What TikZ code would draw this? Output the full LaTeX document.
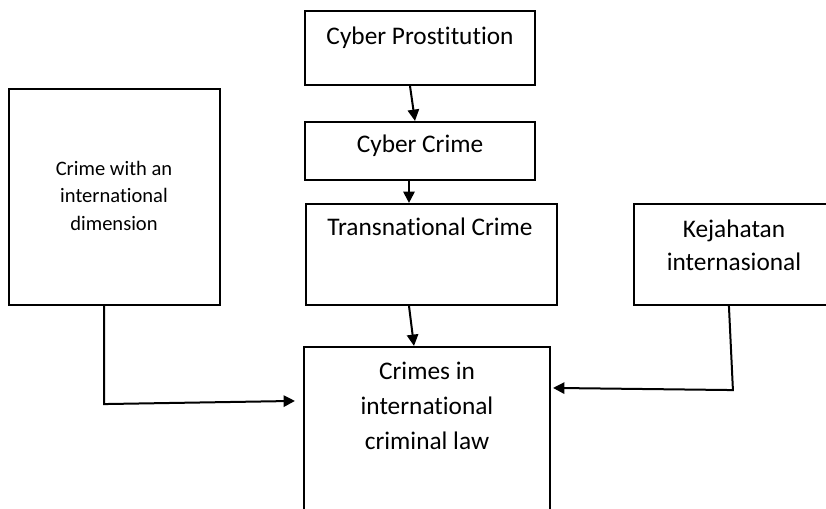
\documentclass[tikz,border=0pt]{standalone}
\usepackage{fontspec}
\setmainfont{Carlito}[Ligatures=NoCommon]
\usetikzlibrary{arrows.meta, calc}

\tikzset{
  box/.style={draw, line width=1.6pt, rectangle, inner sep=0pt},
  txt/.style={inner sep=0pt, align=center, anchor=base},
  arr/.style={line width=1.5pt, -{Triangle[length=8.5pt,width=8.5pt]}}
}

\begin{document}
\begin{tikzpicture}[x=0.75pt,y=0.75pt,yscale=-1,xscale=1]
        \clip (0,0) rectangle (826,508);

        %Shape: Rectangle [cyber prostitution]
        \node[box, minimum width=172.5pt, minimum height=55.5pt] (cp) at (420,48) {};
        %Shape: Rectangle [cyber crime]
        \node[box, minimum width=172.5pt, minimum height=43.5pt] (cc) at (420,151) {};
        %Shape: Rectangle [transnational crime]
        \node[box, minimum width=188.25pt, minimum height=75.75pt] (tc) at (431.5,254.5) {};
        %Shape: Rectangle [international dimension]
        \node[box, minimum width=158.25pt, minimum height=162pt] (cid) at (114.5,197) {};
        %Shape: Rectangle [kejahatan]
        \node[box, minimum width=150pt, minimum height=75.75pt] (ki) at (734,254.5) {};
        %Shape: Rectangle [international criminal law]
        \node[box, minimum width=184.5pt, minimum height=137.25pt] (icl) at (427,438.5) {};

        % Text Node (base = last line)
        \node[txt, font=\fontsize{19}{23}\selectfont] (cpt) at (420,44) {Cyber Prostitution};
        % Text Node
        \node[txt, font=\fontsize{19}{23}\selectfont] (cct) at (420,152) {Cyber Crime};
        % Text Node
        \node[txt, font=\fontsize{19}{23}\selectfont] (tct) at (430,235) {Transnational Crime};
        % Text Node
        \node[txt, font=\fontsize{15.4}{20.8}\selectfont] (cidt) at (114,230.5) {Crime with an\\international\\dimension};
        % Text Node
        \node[txt, font=\fontsize{19}{24.75}\selectfont] (kit) at (734,270) {Kejahatan\\internasional};
        % Text Node
        \node[txt, font=\fontsize{19}{26}\selectfont] (iclt) at (427,449) {Crimes in\\international\\criminal law};

        %Straight Lines
        \draw[arr] ($(cp.south)+(-10,0)$) -- ($(cc.north)+(-5,0)$);
        \draw[arr] ($(cc.south)+(-11,0)$) -- ($(tc.north)+(-22.5,0)$);
        \draw[arr] ($(tc.south)+(-22.5,0)$) -- ($(icl.north)+(-13,0)$);
        %Connector: left box to bottom box
        \draw[arr] ($(cid.south)+(-10.5,0)$) -- ++(0,98) -- ($(icl.north west)+(-8,55)$);
        %Connector: right box to bottom box
        \draw[arr] ($(ki.south west)+(96,0)$) -- ($(ki.south west)+(100,84)$) -- ($(icl.north east)+(2,42)$);

\end{tikzpicture}
\end{document}
